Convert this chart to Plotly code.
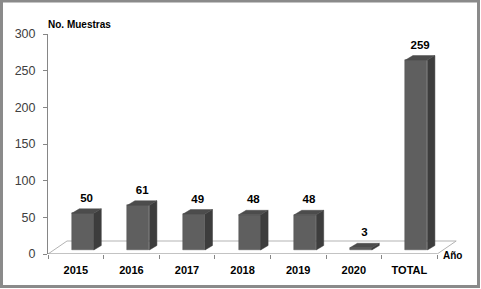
import plotly.graph_objects as go

# ---- data ----
categories = ["2015", "2016", "2017", "2018", "2019", "2020", "TOTAL"]
values = [50, 61, 49, 48, 48, 3, 259]
y_ticks = [0, 50, 100, 150, 200, 250, 300]
y_title = "No. Muestras"
x_title = "Año"

# ---- layout geometry ----
W, H = 481, 289
ML, MR, MT, MB = 48, 23, 34, 35
PW = W - ML - MR
PH = H - MT - MB
CAT_PX = 55.6
XMIN = -0.5
XMAX = XMIN + PW / CAT_PX
YMAX = 300
ux = (XMAX - XMIN) / PW   # data units per px (x)
uy = YMAX / PH            # data units per px (y)

floor_dx, floor_dy = 19 * ux, 13 * uy
shift_x = 7 * ux
base = 4 * uy
bar_w = 22 * ux
ddx, ddy = 7.5 * ux, 4.5 * uy
label_gap = 4 * uy

FRONT, SIDE, TOP = "#5f5f5f", "#3d3d3d", "#4c4c4c"
AXC = "#868686"

xs = list(range(len(categories)))
xc = [i + shift_x for i in xs]

fig = go.Figure()

# front faces
fig.add_trace(go.Bar(x=xc, y=values, base=base, width=bar_w,
                     marker=dict(color=FRONT, line=dict(color="#555555", width=0.5)),
                     hoverinfo="skip"))

# side and top faces
sx, sy, tx, ty = [], [], [], []
for x, v in zip(xc, values):
    xl, xr = x - bar_w / 2, x + bar_w / 2
    top = base + v
    sx += [xr, xr, xr + ddx, xr + ddx, xr, None]
    sy += [base, top, top + ddy, base + ddy, base, None]
    tx += [xl, xr, xr + ddx, xl + ddx, xl, None]
    ty += [top, top, top + ddy, top + ddy, top, None]
fig.add_trace(go.Scatter(x=sx, y=sy, mode="lines", fill="toself", fillcolor=SIDE,
                         line=dict(color=SIDE, width=0.5), hoverinfo="skip"))
fig.add_trace(go.Scatter(x=tx, y=ty, mode="lines", fill="toself", fillcolor=TOP,
                         line=dict(color=TOP, width=0.5), hoverinfo="skip"))

# data labels
fig.add_trace(go.Scatter(x=[x + ddx / 2 for x in xc], y=[base + v + ddy + label_gap for v in values],
                         mode="text", text=[str(v) for v in values],
                         textposition="top center",
                         textfont=dict(family="Liberation Sans", size=11.5, color="#000000", weight="bold"),
                         hoverinfo="skip", cliponaxis=False))

# floor and front axis line
x0, x1 = XMIN, XMIN + len(categories)
fig.add_shape(type="path", xref="x", yref="y", layer="below",
              path=f"M {x0},0 L {x0 + floor_dx},{floor_dy} L {x1 + floor_dx},{floor_dy} L {x1},0",
              line=dict(color="#b3b3b3", width=1))
fig.add_shape(type="line", xref="x", yref="y", x0=x0, x1=x1, y0=0, y1=0,
              line=dict(color=AXC, width=1))

# outer frame
fig.add_shape(type="rect", xref="paper", yref="paper",
              x0=(1.5 - ML) / PW, x1=(478.5 - ML) / PW,
              y0=(MT + PH - 286.5) / PH, y1=(MT + PH - 1) / PH,
              line=dict(color="#8a8a8a", width=3))

fig.add_annotation(text=y_title, xref="paper", yref="paper",
                   x=(46 - ML) / PW, y=(MT + PH - 24) / PH, xanchor="left", yanchor="middle",
                   showarrow=False, font=dict(family="Liberation Sans", size=10, color="#000000", weight="bold"))
fig.add_annotation(text=x_title, xref="paper", yref="paper",
                   x=(452 - ML) / PW, y=(MT + PH - 255) / PH, xanchor="center", yanchor="middle",
                   showarrow=False, font=dict(family="Liberation Sans", size=10, color="#000000", weight="bold"))

fig.update_layout(
    width=W, height=H, margin=dict(l=ML, r=MR, t=MT, b=MB),
    paper_bgcolor="white", plot_bgcolor="white", showlegend=False,
    bargap=0,
    xaxis=dict(range=[XMIN, XMAX], tickmode="array", tickvals=xs, ticktext=categories,
               ticks="", showline=False, showgrid=False, zeroline=False,
               tickfont=dict(family="Liberation Sans", size=11, color="#000000", weight="bold"),
               ticklabelstandoff=8,
               minor=dict(tickmode="array", tickvals=[XMIN + k for k in range(len(categories) + 1)],
                          ticks="outside", ticklen=4, tickcolor=AXC, showgrid=False)),
    yaxis=dict(range=[0, YMAX], tickmode="array", tickvals=y_ticks,
               showline=True, linecolor=AXC, linewidth=1, ticks="outside", ticklen=4, tickcolor=AXC,
               showgrid=False, zeroline=False, ticklabelstandoff=5,
               tickfont=dict(family="Liberation Sans", size=12.5, color="#404040")),
)

fig.write_html("out.html", config={"displayModeBar": False},
               post_script="document.body.style.margin='0';document.body.style.overflow='hidden';")
